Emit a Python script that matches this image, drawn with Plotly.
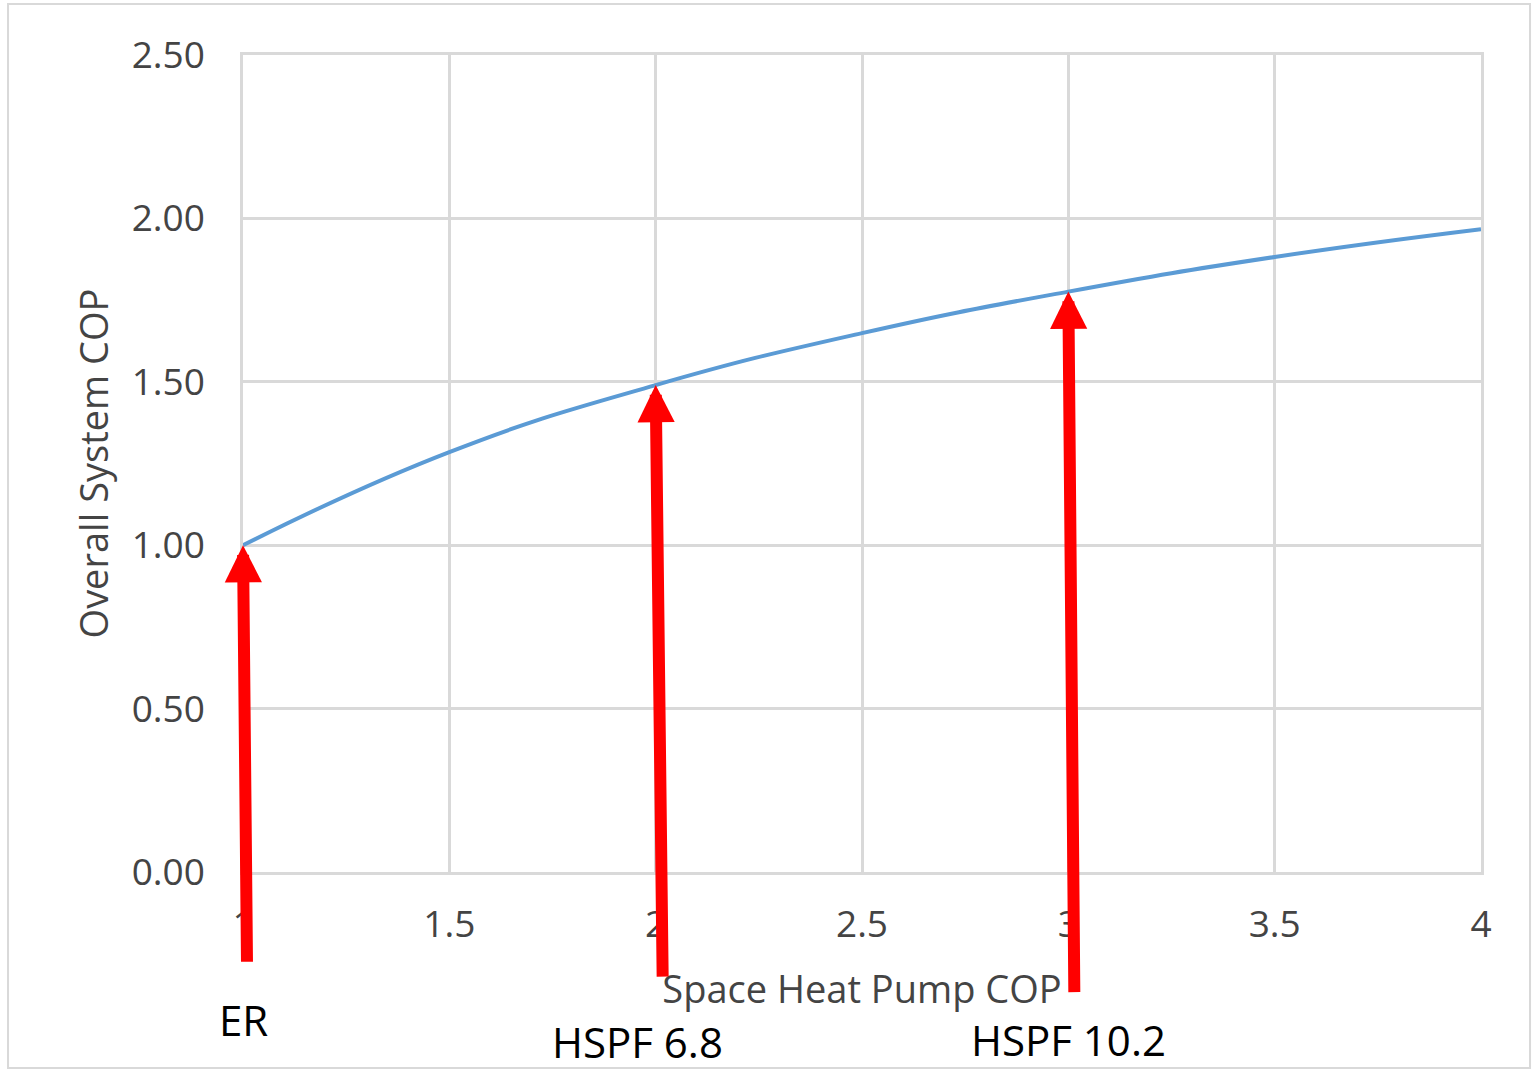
import plotly.graph_objects as go

# Space heat pump COP vs. overall system COP
hp_cop = [1.0, 1.5, 2.0, 2.5, 3.0, 3.5, 4.0]
system_cop = [1.00, 1.285, 1.49, 1.649, 1.776, 1.882, 1.967]

# Equipment markers pointing at the curve
marker_cop = [1.0, 2.0, 3.0]
marker_labels = ["ER", "HSPF 6.8", "HSPF 10.2"]

x_ticks = [1, 1.5, 2, 2.5, 3, 3.5, 4]
y_ticks = [0, 0.5, 1.0, 1.5, 2.0, 2.5]

GRID = "#d9d9d9"
TICK_COLOR = "#444444"
FONT = "Open Sans"

fig = go.Figure()
fig.add_trace(go.Scatter(
    x=hp_cop, y=system_cop, mode="lines",
    line=dict(color="#5b9bd5", width=4, shape="spline", smoothing=1.3),
    hoverinfo="x+y", showlegend=False,
))

# Red arrows from below the axis up to the curve, with their labels
arrow_tail_px = [(4, 418), (7, 593), (6, 702)]
label_pos = [(1.0, -0.181), (1.955, -0.2069), (3.0, -0.2045)]
for xv, lab, (dx, dy), (lx, ly) in zip(marker_cop, marker_labels, arrow_tail_px, label_pos):
    yv = system_cop[hp_cop.index(xv)]
    fig.add_annotation(
        x=xv, y=yv, xref="x", yref="y",
        ax=dx, ay=dy, axref="pixel", ayref="pixel",
        text="", showarrow=True,
        arrowhead=2, arrowsize=0.62, arrowwidth=12, arrowcolor="#ff0000",
        standoff=0,
    )
    fig.add_annotation(
        x=lx, y=ly, xref="x", yref="paper", text=lab, showarrow=False,
        font=dict(family=FONT, size=42, color="#000000"),
        xanchor="center", yanchor="middle",
    )

# Chart-area border
fig.add_shape(
    type="rect", xref="paper", yref="paper",
    x0=-0.1898, x1=1.0396, y0=-0.2399, y1=1.0624,
    line=dict(color=GRID, width=2), layer="below",
)

fig.update_layout(
    width=1535, height=1071,
    margin=dict(l=243, r=54, t=55, b=199),
    paper_bgcolor="white", plot_bgcolor="white",
    font=dict(family=FONT, color=TICK_COLOR),
    xaxis=dict(
        range=[1, 4], tickvals=x_ticks, ticktext=[f"{v:g}" for v in x_ticks],
        showgrid=True, gridcolor=GRID, gridwidth=2.5,
        showline=True, linecolor=GRID, linewidth=2.5, mirror=True,
        zeroline=False, ticks="", ticklabelstandoff=18,
        tickfont=dict(size=37, color=TICK_COLOR),
        title=dict(text="Space Heat Pump COP", standoff=30,
                   font=dict(size=38, color=TICK_COLOR)),
    ),
    yaxis=dict(
        range=[0, 2.5], tickvals=y_ticks, tickformat=".2f",
        showgrid=True, gridcolor=GRID, gridwidth=2.5,
        showline=True, linecolor=GRID, linewidth=2.5, mirror=True,
        zeroline=False, ticks="", ticklabelstandoff=28,
        tickfont=dict(size=37, color=TICK_COLOR),
        title=dict(text="Overall System COP", standoff=12,
                   font=dict(size=38, color=TICK_COLOR)),
    ),
)

fig.write_html("out.html")
